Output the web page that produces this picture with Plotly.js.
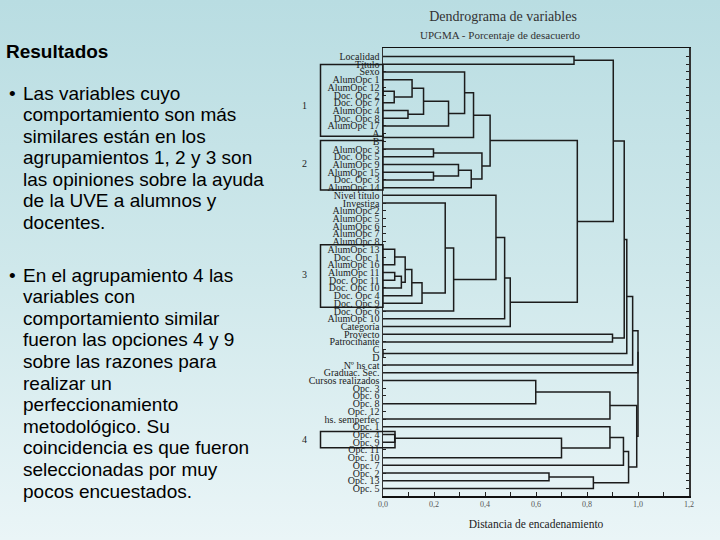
<!DOCTYPE html>
<html><head><meta charset="utf-8">
<script src="https://cdn.plot.ly/plotly-3.0.1.min.js"></script>
<style>
html,body{margin:0;padding:0;width:720px;height:540px;overflow:hidden;
background:linear-gradient(to bottom,#b9dde2 0%,#cfe8eb 50%,#eaf5f7 100%);}
#chart{width:720px;height:540px;}
</style></head><body><div id="chart"></div>
<script>
// ---- data ----
const leaves = ['Localidad','Título','Sexo','AlumOpc 1','AlumOpc 12','Doc. Opc 2','Doc. Opc 7','AlumOpc 4','Doc. Opc 8','AlumOpc 17',
 'A','B','AlumOpc 3','Doc. Opc 5','AlumOpc 9','AlumOpc 15','Doc. Opc 3','AlumOpc 14','Nivel título','Investiga',
 'AlumOpc 2','AlumOpc 5','AlumOpc 6','AlumOpc 7','AlumOpc 8','AlumOpc 13','Doc. Opc 1','AlumOpc 16','AlumOpc 11','Doc. Opc 11',
 'Doc. Opc 10','Doc. Opc 4','Doc. Opc 9','Doc. Opc 6','AlumOpc 10','Categoría','Proyecto','Patrocinante','C','D',
 'Nº hs cat','Graduac. Sec.','Cursos realizados','Opc. 3','Opc. 6','Opc. 8','Opc. 12','hs. semperfec','Opc. 1','Opc. 4',
 'Opc. 9','Opc. 11','Opc. 10','Opc. 7','Opc. 2','Opc. 13','Opc. 5'];
// merges: a string is a leaf, a number is an earlier merge
const mergeLeft = ['Localidad','AlumOpc 12',1,'AlumOpc 1','AlumOpc 4',3,5,'Sexo','A',7,'AlumOpc 3','AlumOpc 15','AlumOpc 9',12,10,9,
 'AlumOpc 13','AlumOpc 11',17,16,19,20,'Investiga',22,'Nivel título',24,25,15,0,'Proyecto',28,'C',30,32,33,
 'Cursos realizados',35,'Opc. 4',37,'Opc. 1',39,'Opc. 2',41,40,36,34];
const mergeRight = ['Título','Doc. Opc 2','Doc. Opc 7',2,'Doc. Opc 8',4,'AlumOpc 17',6,'B',8,'Doc. Opc 5','Doc. Opc 3',11,'AlumOpc 14',13,14,
 'AlumOpc 16','Doc. Opc 11','Doc. Opc 10',18,'Doc. Opc 4','Doc. Opc 9',21,'Doc. Opc 6',23,'AlumOpc 10','Categoría',26,27,'Patrocinante',29,'D',31,'Nº hs cat','Graduac. Sec.',
 'Opc. 8','hs. semperfec','Opc. 9','Opc. 10',38,'Opc. 7','Opc. 13','Opc. 5',42,43,44];
const mergeHeight = [0.749,0,0.044,0.114,0.098,0.159,0.257,0.32,0,0.355,0.198,0.198,0.296,0.346,0.388,0.42,
 0.046,0.046,0.072,0.087,0.113,0.153,0.244,0.277,0.443,0.477,0.499,0.762,0.903,0.90,0.946,0,0.956,0.979,1.0,
 0.599,0.89,0.046,0.70,0.89,0.943,0.651,0.825,0.963,0.995,1.0];
const xTickVals = [0,0.2,0.4,0.6,0.8,1.0,1.2];
const xTickLabels = ['0,0','0,2','0,4','0,6','0,8','1,0','1,2'];
const groupLabels = ['1','2','3','4'];
const chartTitle = 'Dendrograma de variables';
const chartSubtitle = 'UPGMA - Porcentaje de desacuerdo';
const xTitle = 'Distancia de encadenamiento';
const heading = 'Resultados';
const bullet1 = ['Las variables cuyo','comportamiento son más','similares están en los','agrupamientos 1, 2 y 3 son',
 'las opiniones sobre la ayuda','de la UVE a alumnos y','docentes.'];
const bullet2 = ['En el agrupamiento 4 las','variables con','comportamiento similar','fueron las opciones 4 y 9',
 'sobre las razones para','realizar un','perfeccionamiento','metodológico. Su','coincidencia es que fueron',
 'seleccionadas por muy','pocos encuestados.'];

// ---- build tree segments ----
const rowOf = {}; leaves.forEach((n,i)=>rowOf[n]=i+1);
const nodes = [];
function pos(ref){ return (typeof ref === 'number') ? nodes[ref] : {x:0, y:rowOf[ref]}; }
const xs=[], ys=[];
for (let k=0;k<mergeHeight.length;k++){
  const a=pos(mergeLeft[k]), b=pos(mergeRight[k]), h=mergeHeight[k];
  xs.push(a.x,h,h,b.x,null); ys.push(a.y,a.y,b.y,b.y,null);
  nodes.push({x:h, y:(a.y+b.y)/2});
}

// ---- layout helpers (pixel -> paper) ----
const L=383, R=689, T=48, B=496;
const px = v => (v-L)/(R-L);
const py = v => (B-v)/(B-T);
const serif = 'Liberation Serif, Times New Roman, serif';
const sans = 'Liberation Sans, Arial, sans-serif';

const annotations = [];
annotations.push({xref:'paper',yref:'paper',x:px(500),y:py(35),text:chartSubtitle,showarrow:false,
  xanchor:'center',yanchor:'middle',font:{family:serif,size:11,color:'#333'}});
annotations.push({xref:'paper',yref:'paper',x:px(4),y:py(52),text:'<b>'+heading+'</b>',showarrow:false,
  xanchor:'left',yanchor:'middle',font:{family:sans,size:19,color:'#000'}});
const lineH = 21.6;
[[bullet1,93],[bullet2,275]].forEach(([lines,y0])=>{
  annotations.push({xref:'paper',yref:'paper',x:px(7),y:py(y0),text:'•',showarrow:false,
    xanchor:'left',yanchor:'middle',font:{family:sans,size:19,color:'#000'}});
  lines.forEach((t,i)=>annotations.push({xref:'paper',yref:'paper',x:px(21),y:py(y0+i*lineH),text:t,showarrow:false,
    xanchor:'left',yanchor:'middle',font:{family:sans,size:19,color:'#000'}}));
});
// group boxes and numbers
const boxRows = [[2.05,11.35],[11.9,18.3],[25.4,33.5],[49.6,51.7]];
const boxRight = [0,0,0,px(395)];
const shapes = boxRows.map((r,i)=>({type:'rect',xref:'paper',yref:'y',x0:px(320.5),x1:boxRight[i],y0:r[0],y1:r[1],
  line:{color:'#1a1a1a',width:1.5},fillcolor:'rgba(0,0,0,0)'}));
const numRows = [7.35,14.9,29.2,50.7];
groupLabels.forEach((g,i)=>annotations.push({xref:'paper',yref:'y',x:px(304),y:numRows[i],text:g,showarrow:false,
  xanchor:'center',yanchor:'middle',font:{family:serif,size:10,color:'#222'}}));

const trace = {type:'scatter',mode:'lines',x:xs,y:ys,line:{color:'#1c1c1c',width:1.5},hoverinfo:'skip',cliponaxis:false,showlegend:false};

const layout = {
  width:720,height:540,
  margin:{l:L,r:720-R,t:T,b:540-B,pad:0},
  paper_bgcolor:'rgba(0,0,0,0)',plot_bgcolor:'rgba(0,0,0,0)',
  title:{text:chartTitle,x:503/720,xref:'container',y:1-16/540,yref:'container',xanchor:'center',yanchor:'middle',
    font:{family:serif,size:14,color:'#333'}},
  xaxis:{range:[0,1.2],tickmode:'array',tickvals:xTickVals,ticktext:xTickLabels,ticks:'inside',ticklen:4,tickcolor:'#222',
    minor:{tickmode:'linear',tick0:0,dtick:0.1,ticks:'inside',ticklen:4,tickcolor:'#222',showgrid:false},
    showline:true,linecolor:'#111',linewidth:1.5,mirror:true,showgrid:false,zeroline:false,
    tickfont:{family:serif,size:8,color:'#555'},
    title:{text:xTitle,font:{family:serif,size:11.5,color:'#222'},standoff:12}},
  yaxis:{range:[57.97,-0.1],tickmode:'array',tickvals:leaves.map((_,i)=>i+1),ticktext:leaves,ticks:'inside',ticklen:3,tickcolor:'#222',
    showline:true,linecolor:'#333',linewidth:1.5,mirror:'ticks',showgrid:false,zeroline:false,
    tickfont:{family:serif,size:10,color:'#222'}},
  shapes:shapes,annotations:annotations
};
Plotly.newPlot('chart',[trace],layout,{staticPlot:true,displayModeBar:false});
</script></body></html>
